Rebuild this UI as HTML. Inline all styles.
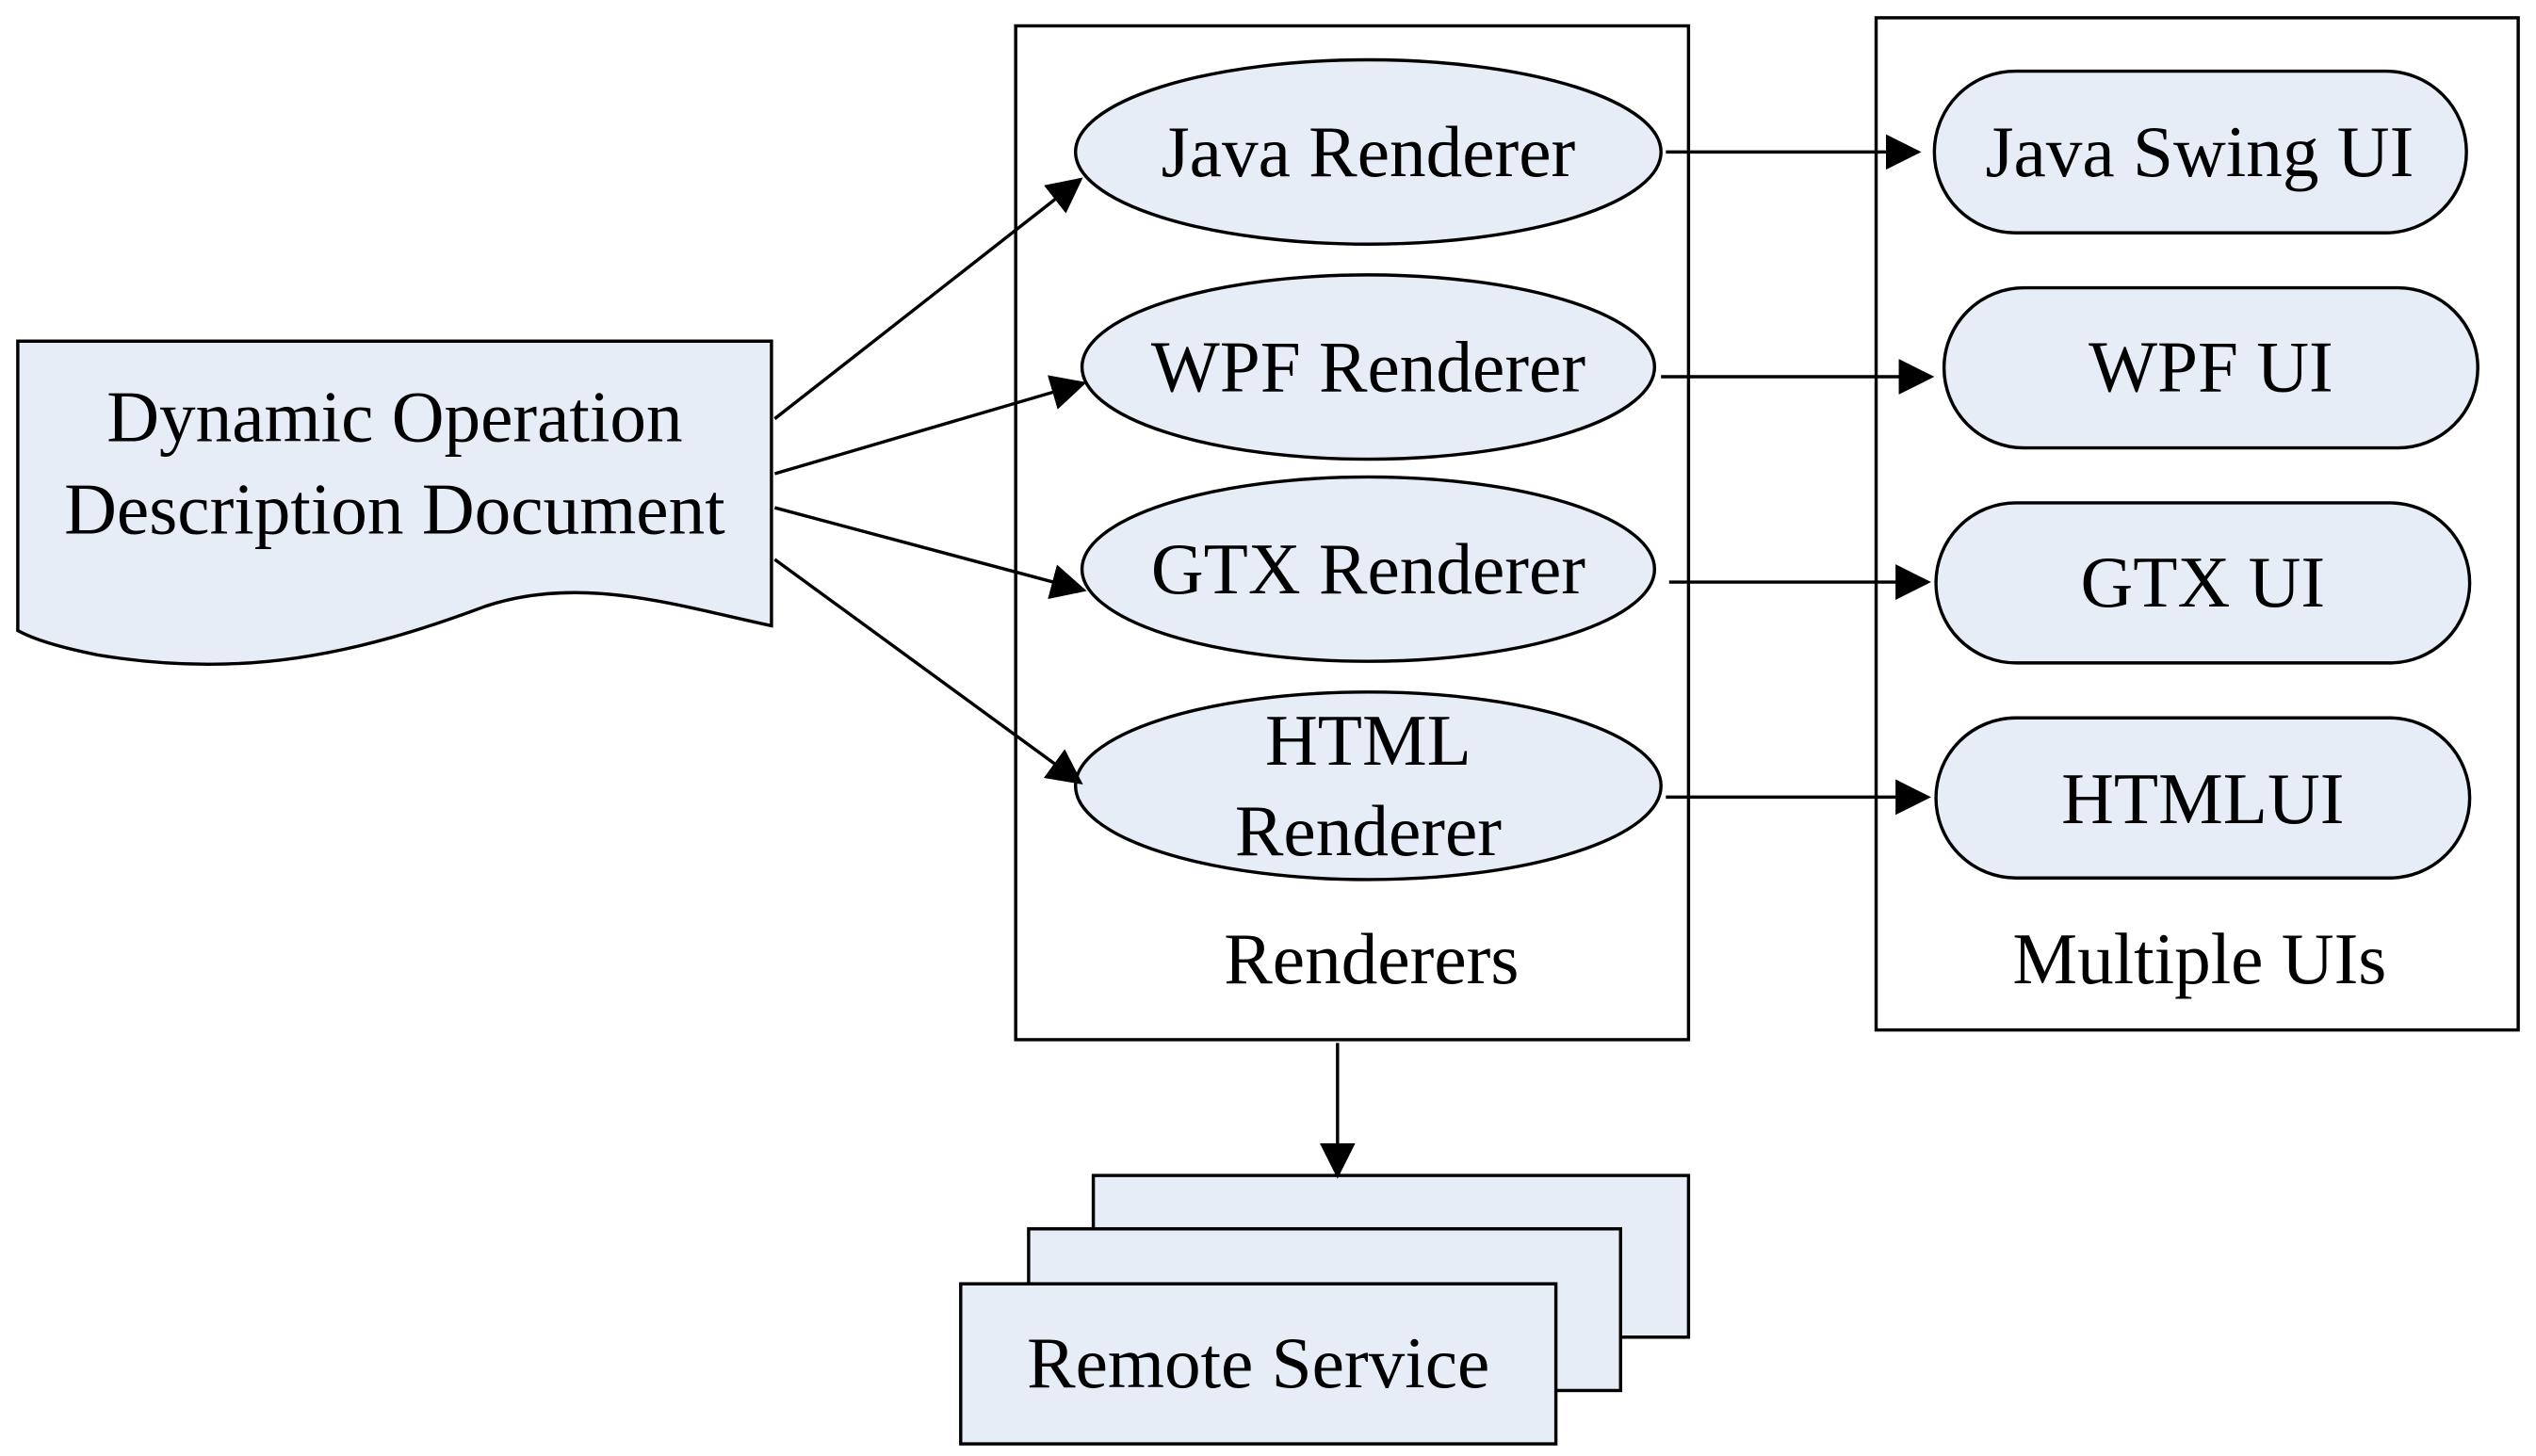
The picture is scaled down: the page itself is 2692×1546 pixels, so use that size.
<!DOCTYPE html>
<html><head><style>html,body{margin:0;padding:0;background:#fff}svg{display:block}</style></head><body>
<svg width="2692" height="1546" viewBox="0 0 1568 900.5" preserveAspectRatio="none" xmlns="http://www.w3.org/2000/svg" font-family="'Liberation Serif',serif" font-size="45" text-anchor="middle">
<defs><marker id="b" markerWidth="22" markerHeight="22" refX="20" refY="11" orient="auto" markerUnits="userSpaceOnUse"><path d="M0,0 L22,11 L0,22z" fill="#000"/></marker></defs>
<g stroke="#000" stroke-width="2" fill="none">
<rect x="628" y="16" width="416" height="627"/>
<rect x="1160" y="11" width="397" height="626"/>
</g>
<path d="M11,211 H477 V387 C420,375 360,355 300,375 C220,405 150,420 60,405 C35,400 20,395 11,390 Z" fill="#e6edf7" stroke="#000" stroke-width="2"/>
<text x="244" y="273">Dynamic Operation</text>
<text x="244" y="330">Description Document</text>
<g fill="#e6edf7" stroke="#000" stroke-width="2">
<ellipse cx="846" cy="94" rx="181" ry="57"/>
<ellipse cx="846" cy="227" rx="177" ry="57"/>
<ellipse cx="846" cy="352" rx="177" ry="57"/>
<ellipse cx="846" cy="486" rx="181" ry="58"/>
<rect x="1196" y="44" width="329" height="100" rx="50"/>
<rect x="1202" y="178" width="330" height="99" rx="49.5"/>
<rect x="1197" y="311" width="330" height="99" rx="49.5"/>
<rect x="1197" y="444" width="330" height="99" rx="49.5"/>
<rect x="676" y="727" width="368" height="100"/>
<rect x="636" y="760" width="366" height="100"/>
<rect x="594" y="794" width="368" height="99"/>
</g>
<text x="846" y="109">Java Renderer</text>
<text x="846" y="242">WPF Renderer</text>
<text x="846" y="367">GTX Renderer</text>
<text x="846" y="473">HTML</text>
<text x="846" y="529">Renderer</text>
<text x="1360" y="109">Java Swing UI</text>
<text x="1367" y="242">WPF UI</text>
<text x="1362" y="375">GTX UI</text>
<text x="1362" y="509">HTMLUI</text>
<text x="848" y="608">Renderers</text>
<text x="1360" y="608">Multiple UIs</text>
<text x="778" y="858">Remote Service</text>
<g stroke="#000" stroke-width="2" marker-end="url(#b)">
<line x1="479" y1="259" x2="668" y2="111"/>
<line x1="479" y1="293" x2="670" y2="237"/>
<line x1="479" y1="314" x2="670" y2="365"/>
<line x1="479" y1="346" x2="668" y2="484"/>
<line x1="1030" y1="94" x2="1186" y2="94"/>
<line x1="1027" y1="233" x2="1194" y2="233"/>
<line x1="1032" y1="360" x2="1192" y2="360"/>
<line x1="1030" y1="493" x2="1192" y2="493"/>
<line x1="827" y1="645" x2="827" y2="727"/>
</g>
</svg>
</body></html>
